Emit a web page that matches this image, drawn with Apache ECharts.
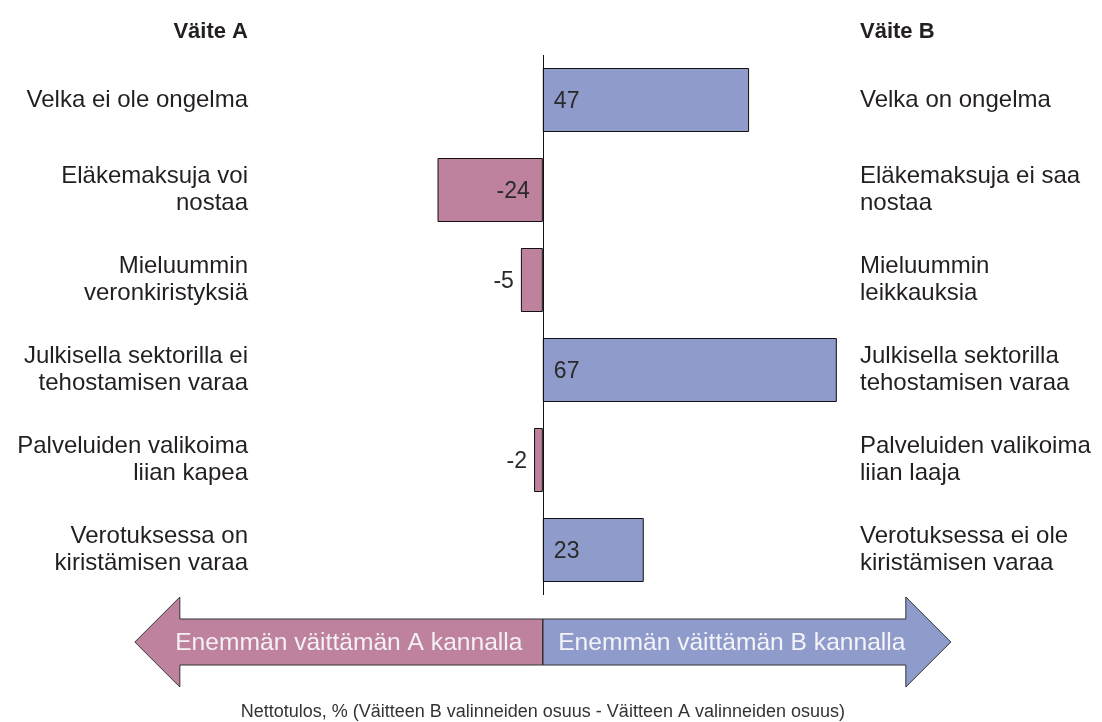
<!DOCTYPE html>
<html lang="fi">
<head>
    <meta charset="UTF-8">
    <title>Nettotulos</title>
    <script src="https://cdn.jsdelivr.net/npm/echarts@6/dist/echarts.min.js"></script>
    <style>
        body { margin: 0; padding: 0; background: #fff; }
        #main { width: 1102px; height: 722px; }
    </style>
</head>
<body>
    <div id="main"></div>
    <script>
        // data
        var labelsA = [
            'Velka ei ole ongelma',
            'Eläkemaksuja voi\nnostaa',
            'Mieluummin\nveronkiristyksiä',
            'Julkisella sektorilla ei\ntehostamisen varaa',
            'Palveluiden valikoima\nliian kapea',
            'Verotuksessa on\nkiristämisen varaa'
        ];
        var labelsB = [
            'Velka on ongelma',
            'Eläkemaksuja ei saa\nnostaa',
            'Mieluummin\nleikkauksia',
            'Julkisella sektorilla\ntehostamisen varaa',
            'Palveluiden valikoima\nliian laaja',
            'Verotuksessa ei ole\nkiristämisen varaa'
        ];
        var netValues = [47, -24, -5, 67, -2, 23];
        var headA = 'Väite A';
        var headB = 'Väite B';
        var arrowTextA = 'Enemmän väittämän A kannalla';
        var arrowTextB = 'Enemmän väittämän B kannalla';
        var caption = 'Nettotulos, % (Väitteen B valinneiden osuus - Väitteen A valinneiden osuus)';

        var colA = '#be829e';
        var colB = '#8f9bca';
        var txt = '#231f20';
        var font = '"Liberation Sans", Arial, sans-serif';

        var barData = netValues.map(function (v) {
            var pos = v >= 0 ? 'insideLeft' : (v < -10 ? 'insideRight' : 'left');
            return {
                value: v,
                itemStyle: { color: v >= 0 ? colB : colA },
                label: { position: pos, distance: v >= 0 ? 11 : (v < -10 ? 13 : 7) }
            };
        });

        var chart = echarts.init(document.getElementById('main'));
        chart.setOption({
            animation: false,
            textStyle: { fontFamily: font },
            grid: { left: 262, right: 252, top: 55, bottom: 127 },
            xAxis: { type: 'value', min: -64, max: 70, show: false },
            yAxis: [{
                type: 'category', data: labelsA, inverse: true, position: 'left',
                axisLine: { show: false }, axisTick: { show: false },
                axisLabel: { margin: 14, fontSize: 24, lineHeight: 27, padding: [5, 0, 0, 0], color: txt, align: 'right', fontFamily: font }
            }, {
                type: 'category', data: labelsB, inverse: true, position: 'right',
                axisLine: { show: false }, axisTick: { show: false },
                axisLabel: { margin: 10, fontSize: 24, lineHeight: 27, padding: [5, 0, 0, 0], color: txt, align: 'left', fontFamily: font }
            }],
            series: [{
                type: 'bar',
                data: barData,
                barWidth: 64,
                itemStyle: { borderColor: '#111', borderWidth: 1 },
                label: { show: true, fontSize: 23, color: '#2a2a2a', fontFamily: font, offset: [0, 2] },
                markLine: {
                    silent: true, symbol: 'none', label: { show: false },
                    lineStyle: { color: '#111', width: 1, type: 'solid' },
                    data: [{ xAxis: 0 }]
                }
            }]
        });

        // arrows below the chart, centred on the zero line
        var cx = chart.convertToPixel({ xAxisIndex: 0 }, 0);
        var cy = 642;
        function arrow(dir, color) {
            var b = dir * 363, t = dir * 408;
            return {
                type: 'polygon',
                shape: { points: [[cx, cy - 23], [cx + b, cy - 23], [cx + b, cy - 45], [cx + t, cy], [cx + b, cy + 45], [cx + b, cy + 23], [cx, cy + 23]] },
                style: { fill: color, stroke: '#333', lineWidth: 1 }
            };
        }
        chart.setOption({
            graphic: [
                arrow(-1, colA),
                arrow(1, colB),
                { type: 'line', shape: { x1: cx, y1: cy - 23, x2: cx, y2: cy + 23 }, style: { stroke: '#333', lineWidth: 1 } },
                { type: 'text', x: cx - 194, y: cy + 1, style: { text: arrowTextA, fill: '#f4f1f4', font: '24.6px ' + font, textAlign: 'center', textVerticalAlign: 'middle' } },
                { type: 'text', x: cx + 189, y: cy + 1, style: { text: arrowTextB, fill: '#f4f4f8', font: '24.6px ' + font, textAlign: 'center', textVerticalAlign: 'middle' } },
                { type: 'text', x: 248, y: 32, style: { text: headA, fill: txt, font: 'bold 22px ' + font, textAlign: 'right', textVerticalAlign: 'middle' } },
                { type: 'text', x: 860, y: 32, style: { text: headB, fill: txt, font: 'bold 22px ' + font, textAlign: 'left', textVerticalAlign: 'middle' } },
                { type: 'text', x: cx, y: 712, style: { text: caption, fill: '#333', font: '18px ' + font, textAlign: 'center', textVerticalAlign: 'middle' } }
            ]
        });
    </script>
</body>
</html>
